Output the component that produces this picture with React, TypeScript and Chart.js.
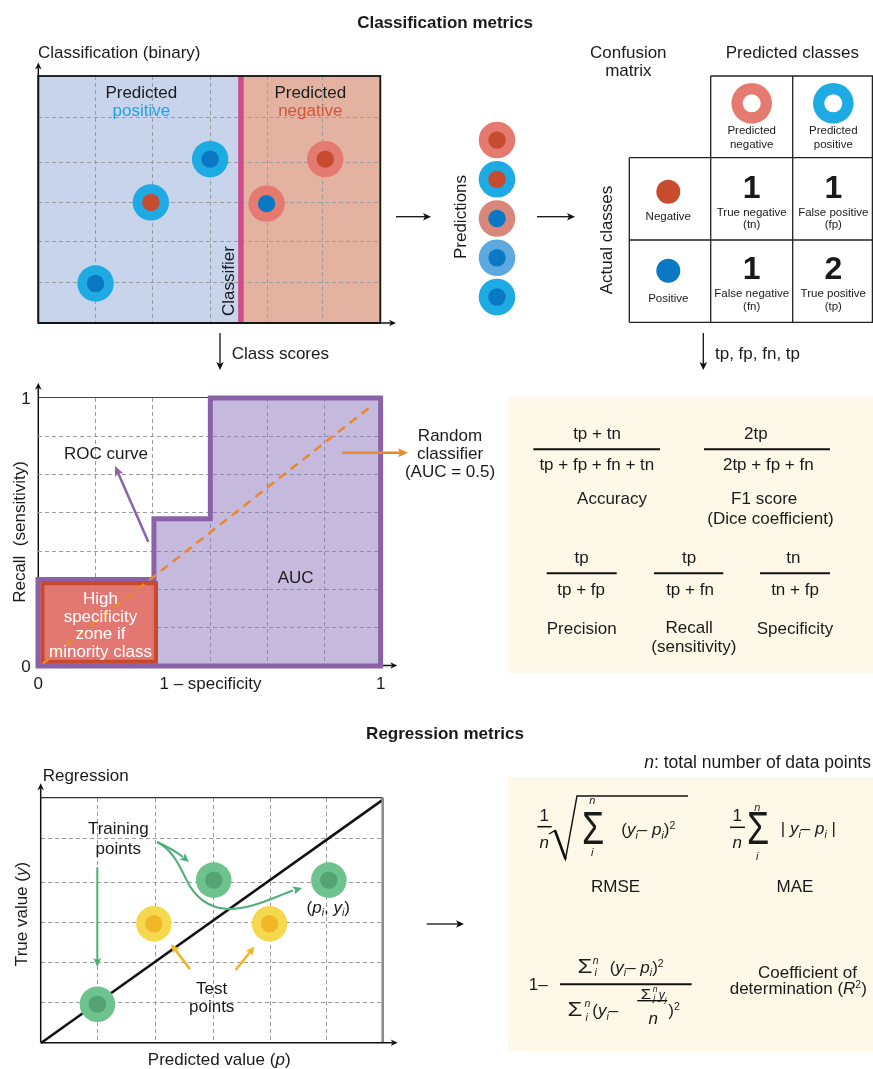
import React, { useEffect, useRef } from "react";
import { Chart, registerables } from "chart.js";
Chart.register(...registerables);

const FONT = '"Liberation Sans", Arimo, Arial, Helvetica, sans-serif';
const INK = "#1a1a1a";
const BEIGE = "#fdf8e8";

// ---------------- data ----------------
// Classification (binary) score space (6 x 6 grid units)
const clsX = [1.01, 1.98, 3.02, 4.01, 5.04];
const clsY = [0.96, 2.93, 3.98, 2.9, 3.98];
const clsOuter = ["#1eaae2", "#1eaae2", "#1eaae2", "#e57b70", "#e57b70"]; // predicted class
const clsInner = ["#0a78c2", "#c64b2f", "#0a78c2", "#0a78c2", "#c64b2f"]; // actual class
const classifierThreshold = 3.56;
const clsGridX = [1.01, 2.01, 3.02, 4.03, 4.99];
const clsGridY = [0.98, 1.97, 2.93, 3.9, 5.0];

// Predictions column
const predIndex = [0, 1, 2, 3, 4];
const predOuter = ["#e57b70", "#1eaae2", "#d9867b", "#5ba9df", "#1eaae2"];
const predInner = ["#c64b2f", "#c64b2f", "#0a78c2", "#0a78c2", "#0a78c2"];

// Confusion matrix
const cmCounts = ["1", "1", "1", "2"];
const cmNames = ["True negative", "False positive", "False negative", "True positive"];
const cmAbbr = ["(tn)", "(fp)", "(fn)", "(tp)"];

// ROC curve (1 - specificity, recall)
const rocFpr = [0, 0, 0.337, 0.337, 0.501, 0.501, 0.996, 0.996, 0, 0];
const rocTpr = [0.16, 0.323, 0.323, 0.549, 0.549, 1, 1, 0, 0, 0.16];
const zoneFpr = [0.013, 0.013, 0.343, 0.343, 0.013, 0.013];
const zoneTpr = [0.16, 0.309, 0.309, 0.016, 0.016, 0.16];
const randomFpr = [0.014, 0.969];
const randomTpr = [0.009, 0.97];
const rocGridX = [1 / 6, 2 / 6, 3 / 6, 4 / 6, 5 / 6];
const rocGridY = [1 / 7, 2 / 7, 3 / 7, 4 / 7, 5 / 7, 6 / 7];
const rocTickLabels = ["0", "1"];

// Regression (predicted p, true y)
const trainP = [0.99, 3.03, 5.05];
const trainY = [0.95, 3.99, 3.99];
const testP = [1.98, 4.01];
const testY = [2.92, 2.92];
const idealP = [0, 6];
const idealY = [0, 5.96];
const regGridX = [0.99, 2.01, 3.03, 4.03, 5.0];
const regGridY = [0.99, 1.98, 2.94, 3.92, 5.02];

// ---------------- chart helpers ----------------
function axis(min: number, max: number, grid: number[], horizontal: boolean, reverse = false) {
  return {
    type: "linear",
    min,
    max,
    reverse,
    afterBuildTicks: (s: any) => {
      s.ticks = grid.map((v) => ({ value: v }));
    },
    afterFit: (s: any) => {
      if (horizontal) s.height = 0;
      else s.width = 0;
    },
    ticks: { display: false },
    grid: { display: grid.length > 0, color: "#9d9d9d", lineWidth: 1, drawTicks: false },
    border: { display: false, dash: [4, 3] },
  };
}

function base(scales: any, pad: number) {
  return {
    animation: false,
    responsive: false,
    events: [],
    layout: { padding: pad },
    plugins: { legend: { display: false }, tooltip: { enabled: false } },
    scales,
  };
}

function pts(xs: number[], ys: number[], r: number, colors: string[], order: number) {
  return {
    type: "line",
    data: xs.map((x, i) => ({ x, y: ys[i] })),
    showLine: false,
    pointRadius: r,
    pointHoverRadius: r,
    pointBackgroundColor: colors,
    pointBorderWidth: 0,
    clip: false,
    order,
  };
}

function ChartCanvas({ x, y, w, h, pad, make }: any) {
  const ref = useRef<HTMLCanvasElement>(null);
  useEffect(() => {
    const chart = new Chart(ref.current as HTMLCanvasElement, make(pad));
    return () => chart.destroy();
  }, []);
  const cw = w + 2 * pad;
  const ch = h + 2 * pad;
  return (
    <canvas
      ref={ref}
      width={cw}
      height={ch}
      style={{ position: "absolute", left: x - pad, top: y - pad, width: cw, height: ch }}
    />
  );
}

const regionPlugin = {
  id: "regions",
  beforeDraw(chart: any) {
    const { ctx, chartArea: a, scales } = chart;
    const t = scales.x.getPixelForValue(classifierThreshold);
    ctx.save();
    ctx.fillStyle = "#c8d3ec";
    ctx.fillRect(a.left, a.top, t - a.left, a.bottom - a.top);
    ctx.fillStyle = "#e3b2a1";
    ctx.fillRect(t, a.top, a.right - t, a.bottom - a.top);
    ctx.restore();
  },
};

const makeCls = (pad: number) => ({
  type: "line",
  data: {
    datasets: [
      pts(clsX, clsY, 8.7, clsInner, 0),
      pts(clsX, clsY, 18.2, clsOuter, 1),
      {
        type: "line",
        data: [
          { x: classifierThreshold, y: 0 },
          { x: classifierThreshold, y: 6 },
        ],
        borderColor: "#cf4b8b",
        borderWidth: 5.5,
        pointRadius: 0,
        order: 2,
      },
    ],
  },
  options: base({ x: axis(0, 6, clsGridX, true), y: axis(0, 6, clsGridY, false) }, pad),
  plugins: [regionPlugin],
});

const makePred = (pad: number) => ({
  type: "line",
  data: {
    datasets: [
      pts(predIndex.map(() => 0), predIndex, 8.7, predInner, 0),
      pts(predIndex.map(() => 0), predIndex, 18.3, predOuter, 1),
    ],
  },
  options: base(
    {
      x: { type: "linear", min: -1, max: 1, display: false },
      y: { type: "linear", min: 0, max: 4, reverse: true, display: false },
    },
    pad
  ),
});

const makeRoc = (pad: number) => ({
  type: "line",
  data: {
    datasets: [
      {
        data: randomFpr.map((x, i) => ({ x, y: randomTpr[i] })),
        borderColor: "#e9892f",
        borderWidth: 2.5,
        borderDash: [9, 6],
        pointRadius: 0,
        clip: false,
        order: 0,
      },
      {
        data: zoneFpr.map((x, i) => ({ x, y: zoneTpr[i] })),
        borderColor: "#c9492d",
        borderWidth: 4,
        backgroundColor: "rgba(232,108,96,0.86)",
        fill: "shape",
        pointRadius: 0,
        borderJoinStyle: "miter",
        clip: false,
        order: 1,
      },
      {
        data: rocFpr.map((x, i) => ({ x, y: rocTpr[i] })),
        borderColor: "#8b62a8",
        borderWidth: 5,
        backgroundColor: "rgba(140,115,190,0.5)",
        fill: "shape",
        pointRadius: 0,
        borderJoinStyle: "miter",
        clip: false,
        order: 2,
      },
    ],
  },
  options: base({ x: axis(0, 1, rocGridX, true), y: axis(0, 1, rocGridY, false) }, pad),
});

const makeReg = (pad: number) => ({
  type: "line",
  data: {
    datasets: [
      pts(trainP, trainY, 8.7, trainP.map(() => "#55a273"), 0),
      pts(trainP, trainY, 17.8, trainP.map(() => "#6dc28d"), 1),
      pts(testP, testY, 8.7, testP.map(() => "#f1b726"), 0),
      pts(testP, testY, 17.8, testP.map(() => "#f6d84e"), 1),
      {
        data: idealP.map((x, i) => ({ x, y: idealY[i] })),
        borderColor: "#111111",
        borderWidth: 2.5,
        pointRadius: 0,
        clip: false,
        order: 2,
      },
    ],
  },
  options: base({ x: axis(0, 6, regGridX, true), y: axis(0, 6, regGridY, false) }, pad),
});

// ---------------- drawing helpers ----------------
function T({ x, y, s = 17, a = "m", c = INK, b = false, it = false, r = false, children, sx = 1 }: any) {
  const tx = a === "m" ? "-50%" : a === "s" ? "0" : "-100%";
  return (
    <div
      style={{
        position: "absolute",
        left: x,
        top: y,
        fontSize: s,
        lineHeight: 1,
        color: c,
        fontWeight: b ? "bold" : "normal",
        fontStyle: it ? "italic" : "normal",
        whiteSpace: "nowrap",
        transform: `translate(${tx},-50%)${r ? " rotate(-90deg)" : ""}${sx !== 1 ? ` scaleX(${sx})` : ""}`,
      }}
    >
      {children}
    </div>
  );
}

const I = ({ children }: any) => <span style={{ fontStyle: "italic" }}>{children}</span>;
const Sub = ({ children }: any) => (
  <span style={{ fontSize: "0.62em", position: "relative", top: "0.35em", lineHeight: 0, fontStyle: "italic" }}>
    {children}
  </span>
);
const Sup = ({ children, it = false }: any) => (
  <span style={{ fontSize: "0.62em", position: "relative", top: "-0.55em", lineHeight: 0, fontStyle: it ? "italic" : "normal" }}>
    {children}
  </span>
);

function Arrow({ x1, y1, x2, y2, c = "#111", w = 1.3, hl = 8, hw = 3.8 }: any) {
  const dx = x2 - x1;
  const dy = y2 - y1;
  const L = Math.hypot(dx, dy);
  const ux = dx / L;
  const uy = dy / L;
  const bx = x2 - ux * hl;
  const by = y2 - uy * hl;
  const px = -uy;
  const py = ux;
  const nx = bx + ux * 2;
  const ny = by + uy * 2;
  return (
    <g>
      <line x1={x1} y1={y1} x2={nx} y2={ny} stroke={c} strokeWidth={w} />
      <polygon
        points={`${x2},${y2} ${bx + px * hw},${by + py * hw} ${nx},${ny} ${bx - px * hw},${by - py * hw}`}
        fill={c}
      />
    </g>
  );
}

function Head({ x, y, dx, dy, c, hl = 9, hw = 4.2 }: any) {
  const L = Math.hypot(dx, dy);
  const ux = dx / L;
  const uy = dy / L;
  const bx = x - ux * hl;
  const by = y - uy * hl;
  const nx = bx + ux * 2;
  const ny = by + uy * 2;
  return (
    <polygon
      points={`${x},${y} ${bx - uy * hw},${by + ux * hw} ${nx},${ny} ${bx + uy * hw},${by - ux * hw}`}
      fill={c}
    />
  );
}

const Bar = ({ x1, x2, y, w = 2 }: any) => <line x1={x1} x2={x2} y1={y} y2={y} stroke="#111" strokeWidth={w} />;

export default function App() {
  const svgStyle: any = { position: "absolute", left: 0, top: 0, width: 873, height: 1069, overflow: "visible" };
  const cmX = [751.7, 833.3];
  const cmY = [186.7, 268.3];
  return (
    <div
      style={{
        position: "absolute",
        left: 0,
        top: 0,
        width: 873,
        height: 1069,
        background: "#ffffff",
        fontFamily: FONT,
        color: INK,
        overflow: "hidden",
      }}
    >
      <div style={{ position: "absolute", left: 508.3, top: 396.7, width: 365, height: 276, background: BEIGE }} />
      <div style={{ position: "absolute", left: 508.3, top: 776.7, width: 365, height: 274.5, background: BEIGE }} />

      {/* under-layer: ROC axes */}
      <svg style={svgStyle} width={873} height={1069}>
        <line x1={38.3} x2={382.3} y1={397.5} y2={397.5} stroke="#444" strokeWidth={1} />
        <Arrow x1={38.3} y1={665.5} x2={38.3} y2={382.7} w={1.5} hl={7} hw={3.3} />
        <Arrow x1={38.3} y1={665.5} x2={397.3} y2={665.5} w={1.5} hl={7} hw={3.3} />
      </svg>

      <ChartCanvas x={38.3} y={76} w={342} h={247} pad={20} make={makeCls} />
      <ChartCanvas x={476.7} y={140} w={40} h={157} pad={24} make={makePred} />
      <ChartCanvas x={38.3} y={397.5} w={344} h={268} pad={20} make={makeRoc} />
      <ChartCanvas x={40.7} y={797.7} w={342} h={245} pad={20} make={makeReg} />

      <svg style={svgStyle} width={873} height={1069}>
        {/* classification box + axes */}
        <rect x={38.3} y={76} width={342} height={247} fill="none" stroke="#111" strokeWidth={1.8} />
        <Arrow x1={38.3} y1={323} x2={38.3} y2={62.5} w={1.5} hl={7} hw={3.3} />
        <Arrow x1={38.3} y1={323} x2={396} y2={323} w={1.5} hl={7} hw={3.3} />

        {/* flow arrows */}
        <Arrow x1={396} y1={216.7} x2={431} y2={216.7} />
        <Arrow x1={537} y1={216.7} x2={575} y2={216.7} />
        <Arrow x1={220} y1={333} x2={220} y2={370} />
        <Arrow x1={703.3} y1={333} x2={703.3} y2={370} />
        <Arrow x1={426.7} y1={924} x2={464} y2={924} />

        {/* confusion matrix grid */}
        <g stroke="#222" strokeWidth={1.3}>
          <line x1={629.3} x2={629.3} y1={157.7} y2={322.3} />
          <line x1={710.7} x2={710.7} y1={76} y2={322.3} />
          <line x1={792.7} x2={792.7} y1={76} y2={322.3} />
          <line x1={872.4} x2={872.4} y1={76} y2={322.3} />
          <line x1={710.7} x2={873} y1={76} y2={76} />
          <line x1={629.3} x2={873} y1={157.7} y2={157.7} />
          <line x1={629.3} x2={873} y1={240} y2={240} />
          <line x1={629.3} x2={873} y1={322.3} y2={322.3} />
        </g>
        <circle cx={751.7} cy={103.3} r={20.3} fill="#e57b70" />
        <circle cx={751.7} cy={103.3} r={9} fill="#ffffff" />
        <circle cx={833.3} cy={103.3} r={20.3} fill="#1eaae2" />
        <circle cx={833.3} cy={103.3} r={9} fill="#ffffff" />
        <circle cx={668.3} cy={191.7} r={12} fill="#c64b2f" />
        <circle cx={668.3} cy={270.7} r={12} fill="#0a78c2" />

        {/* ROC annotations */}
        <Arrow x1={148.3} y1={541.7} x2={115} y2={466} c="#8b62a8" w={2.5} hl={10} hw={4.5} />
        <Arrow x1={342.3} y1={452.7} x2={408} y2={452.7} c="#e9892f" w={2.5} hl={10} hw={4.5} />

        {/* formula bars */}
        <Bar x1={533.3} x2={660} y={449.3} />
        <Bar x1={704} x2={830} y={449.3} />
        <Bar x1={546.7} x2={616.7} y={573.3} />
        <Bar x1={654} x2={723.3} y={573.3} />
        <Bar x1={760} x2={830} y={573.3} />
        <Bar x1={537.3} x2={551.7} y={826.7} w={1.5} />
        <Bar x1={730} x2={745} y={827.3} w={1.5} />
        <Bar x1={560} x2={691.7} y={984.3} w={2} />
        <Bar x1={637.3} x2={667.3} y={1000.7} w={1.4} />
        <path d="M549,834 L555,830.5 L565.5,859 L577,796 L688,796" fill="none" stroke="#111" strokeWidth={1.4} strokeLinejoin="miter" />
        <line x1={555} y1={830.5} x2={565.5} y2={859} stroke="#111" strokeWidth={2.6} />

        {/* regression box + axes */}
        <line x1={40.7} x2={382.7} y1={797.7} y2={797.7} stroke="#333" strokeWidth={1.2} />
        <line x1={382.7} x2={382.7} y1={797.7} y2={1042.7} stroke="#8c8c8c" strokeWidth={2.6} />
        <Arrow x1={40.7} y1={1042.7} x2={40.7} y2={783.3} w={1.5} hl={7} hw={3.3} />
        <Arrow x1={40.7} y1={1042.7} x2={397.7} y2={1042.7} w={1.5} hl={7} hw={3.3} />

        {/* regression annotations */}
        <Arrow x1={97.3} y1={867.3} x2={97.3} y2={967} c="#4daf78" w={2} hl={9} hw={4} />
        <path d="M157,842 C168,847 178,853 183,857" fill="none" stroke="#4daf78" strokeWidth={2} />
        <Head x={189} y={862} dx={6} dy={5} c="#4daf78" />
        <path
          d="M157,842 C170,848 178,862 186,879 C194,896 208,908 228,909 C252,909 272,898 293,890.5"
          fill="none"
          stroke="#4daf78"
          strokeWidth={2}
        />
        <Head x={302} y={888} dx={10} dy={-3} c="#4daf78" />
        <Arrow x1={190} y1={969.3} x2={171} y2={944} c="#f0b323" w={2.5} hl={9} hw={4.2} />
        <Arrow x1={235.7} y1={970} x2={254.5} y2={946.5} c="#f0b323" w={2.5} hl={9} hw={4.2} />
      </svg>

      {/* ---------- titles ---------- */}
      <T x={445} y={22} b>Classification metrics</T>
      <T x={445} y={733} b>Regression metrics</T>

      {/* ---------- classification panel ---------- */}
      <T x={38} y={52} a="s">Classification (binary)</T>
      <T x={141.3} y={92.3}>Predicted</T>
      <T x={141.3} y={110} c="#1ea5de">positive</T>
      <T x={310.3} y={92.3}>Predicted</T>
      <T x={310.3} y={110} c="#d2553b">negative</T>
      <T x={227.5} y={281.3} r>Classifier</T>
      <T x={231.7} y={353.3} a="s">Class scores</T>
      <T x={460} y={216.7} r>Predictions</T>

      {/* ---------- confusion matrix ---------- */}
      <T x={628.3} y={52.3}>Confusion</T>
      <T x={628.3} y={70}>matrix</T>
      <T x={792.3} y={52.3}>Predicted classes</T>
      <T x={751.7} y={130.7} s={11.5}>Predicted</T>
      <T x={751.7} y={145} s={11.5}>negative</T>
      <T x={833.3} y={130.7} s={11.5}>Predicted</T>
      <T x={833.3} y={145} s={11.5}>positive</T>
      <T x={605.7} y={240} r>Actual classes</T>
      <T x={668.3} y={216.7} s={11.5}>Negative</T>
      <T x={668.3} y={299.3} s={11.5}>Positive</T>
      {cmCounts.map((v, i) => (
        <T key={"c" + i} x={cmX[i % 2]} y={cmY[Math.floor(i / 2)]} s={32} b>
          {v}
        </T>
      ))}
      {cmNames.map((v, i) => (
        <T key={"n" + i} x={cmX[i % 2]} y={cmY[Math.floor(i / 2)] + 26} s={11.5}>
          {v}
        </T>
      ))}
      {cmAbbr.map((v, i) => (
        <T key={"a" + i} x={cmX[i % 2]} y={cmY[Math.floor(i / 2)] + 38.5} s={11.5}>
          {v}
        </T>
      ))}
      <T x={715} y={353.3} a="s">tp, fp, fn, tp</T>

      {/* ---------- ROC ---------- */}
      <T x={26} y={398.3}>{rocTickLabels[1]}</T>
      <T x={26} y={666}>{rocTickLabels[0]}</T>
      <T x={38.3} y={682.7}>{rocTickLabels[0]}</T>
      <T x={380.7} y={682.7}>{rocTickLabels[1]}</T>
      <T x={210.5} y={682.7}>1 – specificity</T>
      <T x={19} y={531.7} r>{"Recall\u00a0 (sensitivity)"}</T>
      <T x={106} y={453}>ROC curve</T>
      <T x={295.7} y={577.3}>AUC</T>
      <T x={450} y={435}>Random</T>
      <T x={450} y={453.3}>classifier</T>
      <T x={450} y={471}>(AUC = 0.5)</T>
      <T x={100.5} y={598} c="#ffffff">High</T>
      <T x={100.5} y={615.5} c="#ffffff">specificity</T>
      <T x={100.5} y={633} c="#ffffff">zone if</T>
      <T x={100.5} y={650.5} c="#ffffff">minority class</T>

      {/* ---------- classification formulas ---------- */}
      <T x={597} y={433.3}>tp + tn</T>
      <T x={596.8} y={464}>tp + fp + fn + tn</T>
      <T x={612} y={498.3}>Accuracy</T>
      <T x={755.8} y={433.3}>2tp</T>
      <T x={768.3} y={464}>2tp + fp + fn</T>
      <T x={764.2} y={498.3}>F1 score</T>
      <T x={770.5} y={518.3}>(Dice coefficient)</T>
      <T x={581.7} y={556.7}>tp</T>
      <T x={581.2} y={589.3}>tp + fp</T>
      <T x={581.7} y={628.3}>Precision</T>
      <T x={689.2} y={556.7}>tp</T>
      <T x={690} y={589.3}>tp + fn</T>
      <T x={689.2} y={627.3}>Recall</T>
      <T x={693.8} y={646}>(sensitivity)</T>
      <T x={793.3} y={556.7}>tn</T>
      <T x={795} y={589.3}>tn + fp</T>
      <T x={795} y={628.3}>Specificity</T>

      {/* ---------- regression panel ---------- */}
      <T x={42.7} y={775} a="s">Regression</T>
      <T x={118.3} y={828.3}>Training</T>
      <T x={118.3} y={847.7}>points</T>
      <T x={211.7} y={988.3}>Test</T>
      <T x={211.7} y={1006}>points</T>
      <T x={328.3} y={906.7}>
        (<I>p</I>
        <Sub>i</Sub>, <I>y</I>
        <Sub>i</Sub>)
      </T>
      <T x={219.2} y={1059.3}>
        Predicted value (<I>p</I>)
      </T>
      <T x={20.7} y={914} r>
        True value (<I>y</I>)
      </T>

      {/* ---------- regression formulas ---------- */}
      <T x={644.3} y={763.3} a="s" s={17.5}>
        <I>n</I>: total number of data points
      </T>
      {/* RMSE */}
      <T x={544.3} y={815}>1</T>
      <T x={544.3} y={841.7} it>n</T>
      <T x={593.3} y={828.3} s={46} sx={0.78}>Σ</T>
      <T x={592.3} y={799.8} s={11} it>n</T>
      <T x={592.3} y={852} s={11} it>i</T>
      <T x={648.3} y={829}>
        (<I>y</I>
        <Sub>i</Sub>– <I>p</I>
        <Sub>i</Sub>)<Sup>2</Sup>
      </T>
      <T x={615.5} y={885.7}>RMSE</T>
      {/* MAE */}
      <T x={737.3} y={815}>1</T>
      <T x={737.3} y={841.7} it>n</T>
      <T x={757.5} y={827.5} s={46} sx={0.78}>Σ</T>
      <T x={757.3} y={807.3} s={11} it>n</T>
      <T x={757.3} y={856} s={11} it>i</T>
      <T x={808.3} y={828}>
        | <I>y</I>
        <Sub>i</Sub>– <I>p</I>
        <Sub>i</Sub> |
      </T>
      <T x={795} y={885.7}>MAE</T>
      {/* R squared */}
      <T x={538.3} y={984.3}>1–</T>
      <T x={584.5} y={965.5} s={20} sx={1.2}>Σ</T>
      <T x={595.7} y={960} s={10.5} it>n</T>
      <T x={595.7} y={972} s={10.5} it>i</T>
      <T x={636.7} y={966.7}>
        (<I>y</I>
        <Sub>i</Sub>– <I>p</I>
        <Sub>i</Sub>)<Sup>2</Sup>
      </T>
      <T x={575} y={1009} s={20} sx={1.2}>Σ</T>
      <T x={587.5} y={1003.3} s={10.5} it>n</T>
      <T x={586.7} y={1016.7} s={10.5} it>i</T>
      <T x={592.3} y={1010} a="s">
        (<I>y</I>
        <Sub>i</Sub>–
      </T>
      <T x={645.8} y={993.8} s={14} sx={1.2}>Σ</T>
      <T x={655} y={989.3} s={8.5} it>n</T>
      <T x={654.3} y={998.3} s={8.5} it>j</T>
      <T x={662.5} y={995} s={12}>
        <I>y</I>
        <Sub>j</Sub>
      </T>
      <T x={653.3} y={1018.3} it>n</T>
      <T x={668.3} y={1010} a="s">
        )<Sup>2</Sup>
      </T>
      <T x={807.5} y={971.7}>Coefficient of</T>
      <T x={798.3} y={988}>
        determination (<I>R</I>
        <Sup>2</Sup>)
      </T>
    </div>
  );
}
